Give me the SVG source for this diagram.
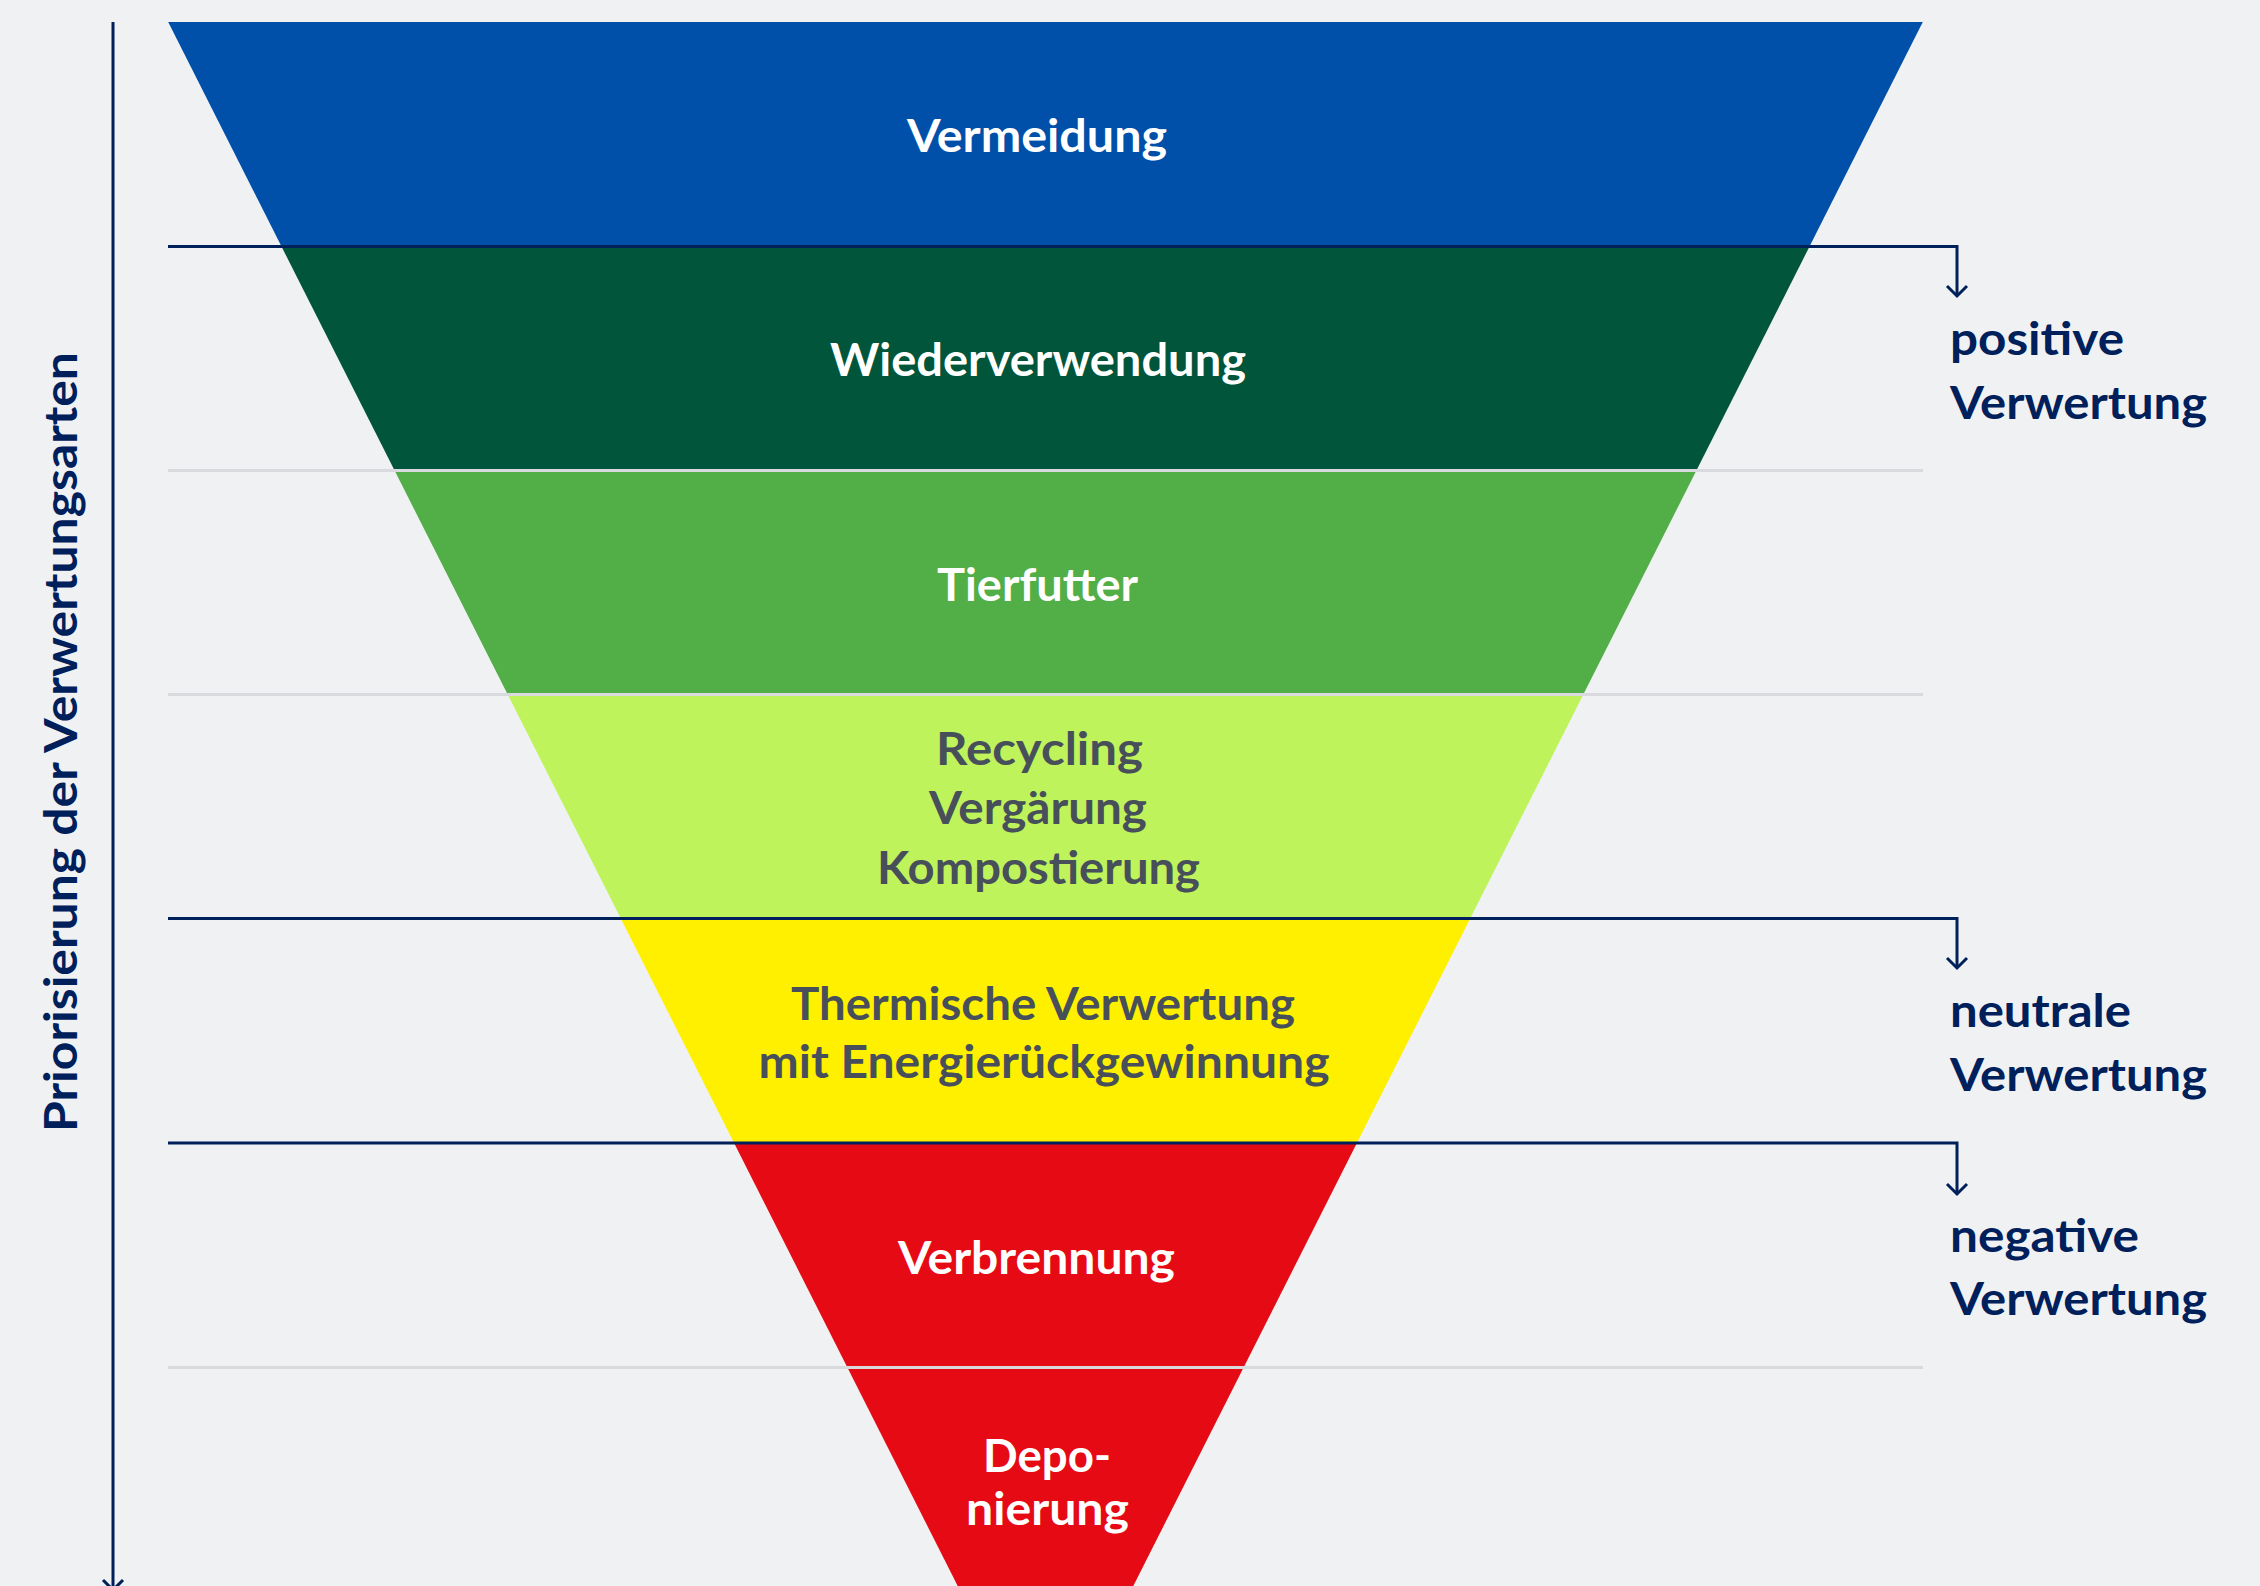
<svg xmlns="http://www.w3.org/2000/svg" width="2260" height="1586" viewBox="0 0 2260 1586">
<style>
.lbl{font-family:Lato,"Open Sans","Liberation Sans",sans-serif;font-weight:700;font-size:46px;text-anchor:middle}
.w{fill:#ffffff}
.g{fill:#474f5a}
.side{font-family:Lato,"Open Sans","Liberation Sans",sans-serif;font-weight:700;font-size:46px;fill:#00205b}
.dark{stroke:#00205b;stroke-width:3;fill:none}
.grey{stroke:#d9dadd;stroke-width:3;fill:none}
</style>
<defs>
<marker id="chev" viewBox="-12 -12 24 24" markerWidth="24" markerHeight="24" markerUnits="userSpaceOnUse" refX="0" refY="0" orient="auto">
<path d="M-10,-10 L0,0 L-10,10" fill="none" stroke="#00205b" stroke-width="3"/>
</marker>
</defs>
<rect x="0" y="0" width="2260" height="1586" fill="#f0f1f3"/>

<g id="band-vermeidung">
<polygon points="168.2,22 1922.8,22 1809.5,246.5 281.5,246.5" fill="#0050aa"/>
<text class="lbl w" x="1037" y="152" textLength="260" lengthAdjust="spacingAndGlyphs">Vermeidung</text>
</g>
<g id="band-wiederverwendung">
<polygon points="281.5,246.5 1809.5,246.5 1696.4,470.5 394.6,470.5" fill="#00553a"/>
<text class="lbl w" x="1038" y="376" textLength="416" lengthAdjust="spacingAndGlyphs">Wiederverwendung</text>
</g>
<g id="band-tierfutter">
<polygon points="394.6,470.5 1696.4,470.5 1583.3,694.5 507.7,694.5" fill="#52ae46"/>
<text class="lbl w" x="1037.5" y="601" textLength="201" lengthAdjust="spacingAndGlyphs">Tierfutter</text>
</g>
<g id="band-recycling">
<polygon points="507.7,694.5 1583.3,694.5 1470.2,918.5 620.8,918.5" fill="#bef35c"/>
<text class="lbl g" x="1039.5" y="765" textLength="207" lengthAdjust="spacingAndGlyphs">Recycling</text>
<text class="lbl g" x="1038" y="824" textLength="218" lengthAdjust="spacingAndGlyphs">Vergärung</text>
<text class="lbl g" x="1038.5" y="884" textLength="323" lengthAdjust="spacingAndGlyphs">Kompostierung</text>
</g>
<g id="band-thermisch">
<polygon points="620.8,918.5 1470.2,918.5 1356.9,1143 734.1,1143" fill="#fff000"/>
<text class="lbl g" x="1043" y="1020" textLength="504" lengthAdjust="spacingAndGlyphs">Thermische Verwertung</text>
<text class="lbl g" x="1044" y="1078" textLength="571" lengthAdjust="spacingAndGlyphs">mit Energierückgewinnung</text>
</g>
<g id="band-verbrennung">
<polygon points="734.1,1143 1356.9,1143 1243.6,1367.5 847.4,1367.5" fill="#e60a14"/>
<text class="lbl w" x="1036.5" y="1274" textLength="277" lengthAdjust="spacingAndGlyphs">Verbrennung</text>
</g>
<g id="band-deponierung">
<polygon points="847.4,1367.5 1243.6,1367.5 1126.2,1600 964.8,1600" fill="#e60a14"/>
<text class="lbl w" x="1047" y="1472" font-size="38" textLength="128" lengthAdjust="spacingAndGlyphs">Depo-</text>
<text class="lbl w" x="1047.5" y="1525" font-size="38" textLength="163" lengthAdjust="spacingAndGlyphs">nierung</text>
</g>

<g id="connectors">
<line class="grey" x1="168" y1="470.5" x2="1923" y2="470.5"/>
<line class="grey" x1="168" y1="694.5" x2="1923" y2="694.5"/>
<line class="grey" x1="168" y1="1367.5" x2="1923" y2="1367.5"/>
<path class="dark" d="M168,246.5 H1957 V296" marker-end="url(#chev)"/>
<path class="dark" d="M168,918.5 H1957 V968" marker-end="url(#chev)"/>
<path class="dark" d="M168,1143 H1957 V1194" marker-end="url(#chev)"/>
<path class="dark" d="M113,22 V1590" marker-end="url(#chev)"/>
</g>

<g id="axis-label">
<text class="side" transform="translate(77,742) rotate(-90)" x="0" y="0" text-anchor="middle" font-size="47" textLength="780" lengthAdjust="spacingAndGlyphs">Priorisierung der Verwertungsarten</text>
</g>
<g id="label-positive">
<text class="side" x="1950" y="355" textLength="174" lengthAdjust="spacingAndGlyphs">positive</text>
<text class="side" x="1950" y="419" textLength="257" lengthAdjust="spacingAndGlyphs">Verwertung</text>
</g>
<g id="label-neutrale">
<text class="side" x="1950" y="1027" textLength="181" lengthAdjust="spacingAndGlyphs">neutrale</text>
<text class="side" x="1950" y="1091" textLength="257" lengthAdjust="spacingAndGlyphs">Verwertung</text>
</g>
<g id="label-negative">
<text class="side" x="1950" y="1252" textLength="189" lengthAdjust="spacingAndGlyphs">negative</text>
<text class="side" x="1950" y="1315" textLength="257" lengthAdjust="spacingAndGlyphs">Verwertung</text>
</g>
</svg>
